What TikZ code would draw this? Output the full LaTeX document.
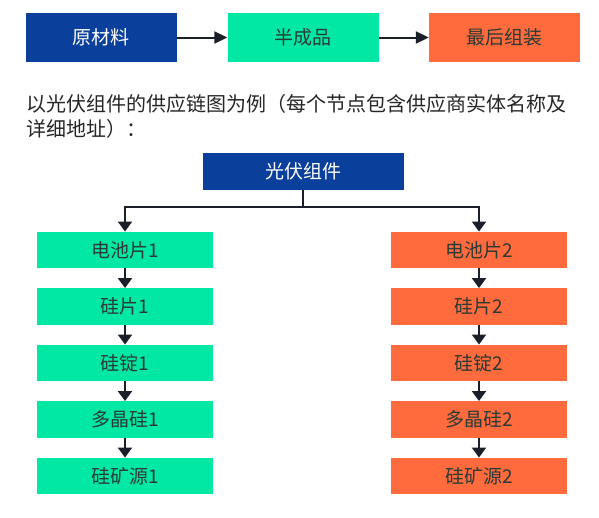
\documentclass[tikz,border=0pt]{standalone}
\usepackage{fontspec}
\setmainfont{Noto Sans CJK SC}
\usetikzlibrary{arrows.meta}
\definecolor{dblue}{HTML}{0B3F9C}
\definecolor{mint}{HTML}{00E8A3}
\definecolor{orng}{HTML}{FF6B3D}
\definecolor{txtdark}{HTML}{2B3A35}
\definecolor{linec}{HTML}{1A1F2A}
\tikzset{
  box/.style={inner sep=0pt, font=\fontsize{19}{22}\selectfont},
  topbox/.style={box, minimum width=151pt, minimum height=49pt},
  colbox/.style={box, minimum width=176pt, minimum height=36.5pt},
  bluebox/.style={fill=dblue, text=white},
  greenbox/.style={fill=mint, text=txtdark},
  orangebox/.style={fill=orng, text=txtdark},
  arr/.style={draw=linec, line width=2pt, -{Triangle[length=10pt,width=14pt]}},
  toparr/.style={draw=linec, line width=2pt, -{Triangle[length=13pt,width=12pt]}},
  plain/.style={draw=linec, line width=2pt}
}
\begin{document}
\begin{tikzpicture}[x=1pt,y=-1pt]
\useasboundingbox[fill=white] (0,0) rectangle (599,517);
% top row
\node[topbox,bluebox] (raw) at (101,37.5) {原材料};
\node[topbox,greenbox] (semi) at (303,37.5) {半成品};
\node[topbox,orangebox] (final) at (504.5,37.5) {最后组装};
\draw[toparr] (raw.east) -- (semi.west);
\draw[toparr] (semi.east) -- (final.west);
% description text
\node[anchor=north west, inner sep=0pt, align=left, text=black!85,
  font=\fontsize{20}{25}\selectfont] (desc) at (26,94)
  {以光伏组件的供应链图为例（每个节点包含供应商实体名称及\\详细地址）：};
% tree
\node[box, bluebox, minimum width=201pt, minimum height=37pt] (pv) at (303,171.5) {光伏组件};
\node[colbox,greenbox] (l1) at (125,250) {电池片1};
\node[colbox,greenbox] (l2) at (125,306.5) {硅片1};
\node[colbox,greenbox] (l3) at (125,363) {硅锭1};
\node[colbox,greenbox] (l4) at (125,419.5) {多晶硅1};
\node[colbox,greenbox] (l5) at (125,476) {硅矿源1};
\node[colbox,orangebox] (r1) at (479,250) {电池片2};
\node[colbox,orangebox] (r2) at (479,306.5) {硅片2};
\node[colbox,orangebox] (r3) at (479,363) {硅锭2};
\node[colbox,orangebox] (r4) at (479,419.5) {多晶硅2};
\node[colbox,orangebox] (r5) at (479,476) {硅矿源2};
\coordinate (j) at (303,207);
\draw[plain] (pv.south) -- (j);
\draw[arr] (j) -| (l1.north);
\draw[arr] (j) -| (r1.north);
\draw[arr] (l1) -- (l2);
\draw[arr] (l2) -- (l3);
\draw[arr] (l3) -- (l4);
\draw[arr] (l4) -- (l5);
\draw[arr] (r1) -- (r2);
\draw[arr] (r2) -- (r3);
\draw[arr] (r3) -- (r4);
\draw[arr] (r4) -- (r5);
\end{tikzpicture}
\end{document}
